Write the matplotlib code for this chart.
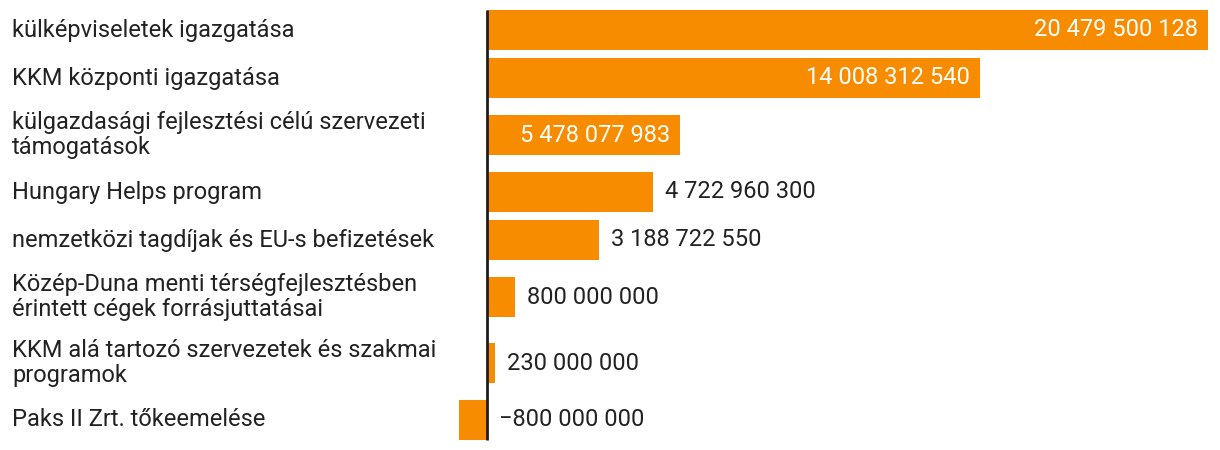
import matplotlib
matplotlib.use('Agg')
import matplotlib.pyplot as plt
import matplotlib.transforms as mtransforms

labels = ['külképviseletek igazgatása',
          'KKM központi igazgatása',
          'külgazdasági fejlesztési célú szervezeti\ntámogatások',
          'Hungary Helps program',
          'nemzetközi tagdíjak és EU-s befizetések',
          'Közép-Duna menti térségfejlesztésben\nérintett cégek forrásjuttatásai',
          'KKM alá tartozó szervezetek és szakmai\nprogramok',
          'Paks II Zrt. tőkeemelése']
values = [20479500128, 14008312540, 5478077983, 4722960300,
          3188722550, 800000000, 230000000, -800000000]

plt.rcParams['font.family'] = ['Roboto', 'DejaVu Sans']

W, H = 1220, 450
fig = plt.figure(figsize=(W / 100, H / 100), dpi=100)
ax = fig.add_axes([0, 0, 1, 1])

# layout in pixels: zero line and max bar end
x0_px, xmax_px = 487, 1208
s = (xmax_px - x0_px) / max(values)
ax.set_xlim(-x0_px / s, (W - x0_px) / s)

# row centers from number of label lines
bar_h = 40
gap = 8
line_h = 29
centers = []
top = 10
for lab in labels:
    n = lab.count('\n') + 1
    block = max(bar_h, n * line_h)
    centers.append(top + block / 2)
    top += block + gap
ax.set_ylim(H, 0)

color = '#f78c00'
ax.barh(centers, values, height=bar_h, color=color, linewidth=0)
ax.plot([0, 0], [centers[0] - bar_h / 2, centers[-1] + bar_h / 2],
        color='#1d1d1d', lw=2, solid_capstyle='butt')

fs = 17
trans = mtransforms.blended_transform_factory(fig.transFigure, ax.transData)
for lab, c in zip(labels, centers):
    ax.text(12 / W, c, lab, transform=trans, ha='left', va='center',
            fontsize=fs, color='#222222', linespacing=1.12)

def fmt(v):
    t = '{:,}'.format(abs(v)).replace(',', ' ')
    return ('\u2212' if v < 0 else '') + t

pad = 10 / s
for v, c in zip(values, centers):
    if v > 5e9:
        ax.text(v - pad, c, fmt(v), ha='right', va='center', fontsize=fs,
                color='white')
    else:
        ax.text(max(v, 0) + 1.2 * pad, c, fmt(v), ha='left', va='center',
                fontsize=fs, color='#222222')

ax.axis('off')
fig.savefig('out.png', dpi=100)
